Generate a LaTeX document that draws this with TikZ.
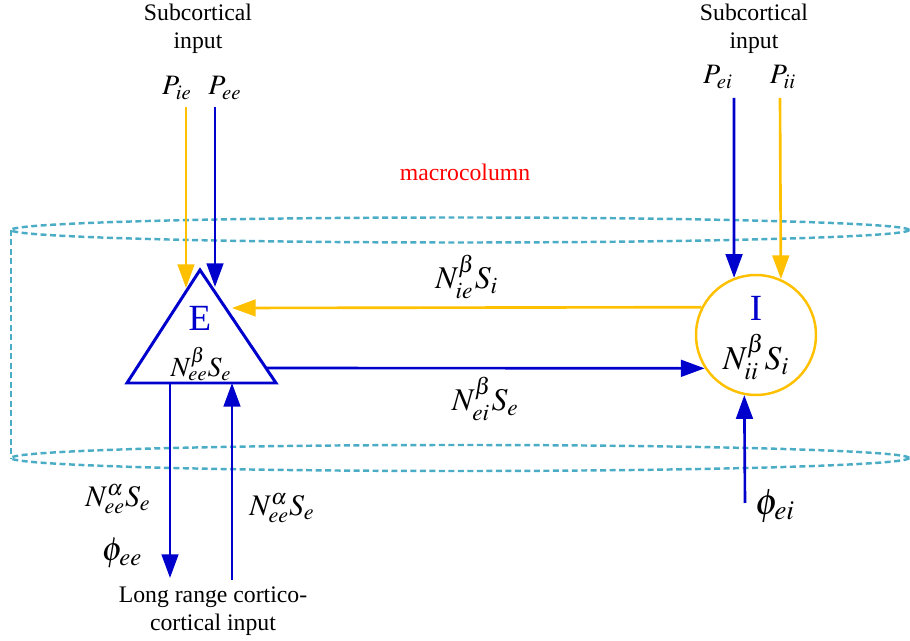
\documentclass[tikz,border=0pt]{standalone}
\usepackage{mathptmx}
\usepackage{fontspec}
\setmainfont{Liberation Serif}
\usetikzlibrary{arrows.meta}
\definecolor{exblue}{RGB}{0,0,204}
\definecolor{inorange}{RGB}{255,192,0}
\definecolor{colcyan}{RGB}{75,172,198}
\tikzset{
  txt/.style={font=\fontsize{13.5}{16}\selectfont, align=center},
  eqn/.style={font=\fontsize{18}{20}\selectfont, inner sep=0.5pt},
  peqn/.style={font=\fontsize{16}{18}\selectfont, inner sep=0.5pt},
  bigeqn/.style={font=\fontsize{17}{20}\selectfont, inner sep=0.5pt},
  column/.style={draw=colcyan, line width=1.4pt, dash pattern=on 3.4pt off 2pt},
  tip/.style={-{Triangle[length=13.5pt,width=9.5pt]}},
  exarrow/.style={tip, draw=exblue, fill=exblue, line width=1.5pt},
  inarrow/.style={tip, draw=inorange, fill=inorange, line width=1.5pt}
}
\begin{document}
\begin{tikzpicture}[x=0.02cm, y=-0.02cm]
    \useasboundingbox (0,0) rectangle (910,641);

    % Macrocolumn
    \draw[column] (11,230) -- (11,458);
    \draw[column] (460,230) ellipse [x radius=449, y radius=12.5];
    \draw[column] (460,458) ellipse [x radius=449, y radius=13];
    \node[txt, text=red] (macro) at (465,172) {macrocolumn};

    % Populations
    \coordinate (apex) at (200,270);
    \coordinate (baseL) at (127,383);
    \coordinate (baseR) at (276,383);
    \draw[exblue, line width=1.7pt, line join=miter] (apex) -- (baseL) -- (baseR) -- cycle;
    \node[font=\fontsize{21}{24}\selectfont, text=exblue] (E) at (200,318) {E};
    \node[font=\fontsize{15.8}{18}\selectfont, inner sep=0.5pt] (Nee) at (201,364) {$N_{ee}^{\beta}S_{e}$};

    \node[draw=inorange, line width=1.4pt, circle, minimum size=2.4cm, inner sep=0pt] (inhib) at (756,335) {};
    \node[font=\fontsize{21}{24}\selectfont, text=exblue] (I) at (756,308) {I};
    \node[font=\fontsize{19}{22}\selectfont, inner sep=0.5pt] (Nii) at (756,357) {$N_{ii}^{\beta}S_{i}$};

    % Subcortical input
    \node[txt] (subL) at (198,29) {Subcortical\\input};
    \node[txt] (subR) at (754,29) {Subcortical\\input};
    \node[peqn] (Pie) at (177,88) {$P_{ie}$};
    \node[peqn] (Pee) at (225,88) {$P_{ee}$};
    \node[peqn] (Pei) at (718,77) {$P_{ei}$};
    \node[peqn] (Pii) at (783,77) {$P_{ii}$};
    \coordinate (Pie0) at (186,107);
    \coordinate (Pee0) at (215,107);
    \coordinate (Pie1) at (186,288);
    \coordinate (Pee1) at (215,287);
    \coordinate (Pei0) at (734,98);
    \coordinate (Pii0) at (780,98);
    \draw[inarrow] (Pie0) -- (Pie1);
    \draw[exarrow] (Pee0) -- (Pee1);
    \draw[exarrow] (Pei0) -- (inhib.111.5);
    \draw[inarrow] (Pii0) -- (inhib.66.4);

    % Local connections
    \coordinate (Eside) at (232,308);
    \coordinate (Eout) at (266,368);
    \draw[inarrow] (inhib.153.3) -- (Eside) node[midway, above=4pt, eqn] (Nie) {$N_{ie}^{\beta}S_{i}$};
    \draw[exarrow] (Eout) -- (inhib.213.4) node[midway, below=4pt, eqn] (Nei) {$N_{ei}^{\beta}S_{e}$};

    % Long range
    \coordinate (Edown0) at (170,383);
    \coordinate (Edown1) at (170,578);
    \coordinate (Eup0) at (232,580);
    \coordinate (Eup1) at (232,383);
    \coordinate (phiei0) at (745,503);
    \draw[exarrow] (Edown0) -- (Edown1);
    \draw[exarrow] (Eup0) -- (Eup1);
    \draw[exarrow] (phiei0) -- (inhib.259.4);
    \node[bigeqn] (NeeL) at (118,499) {$N_{ee}^{\alpha}S_{e}$};
    \node[font=\fontsize{19}{22}\selectfont, inner sep=0.5pt] (phiee) at (122,553) {$\phi_{ee}$};
    \node[bigeqn] (NeeR) at (282,508) {$N_{ee}^{\alpha}S_{e}$};
    \node[font=\fontsize{21}{24}\selectfont, inner sep=0.5pt] (phiei) at (775,506) {$\phi_{ei}$};
    \node[txt] (long) at (213,611) {Long range cortico-\\cortical input};
\end{tikzpicture}
\end{document}
